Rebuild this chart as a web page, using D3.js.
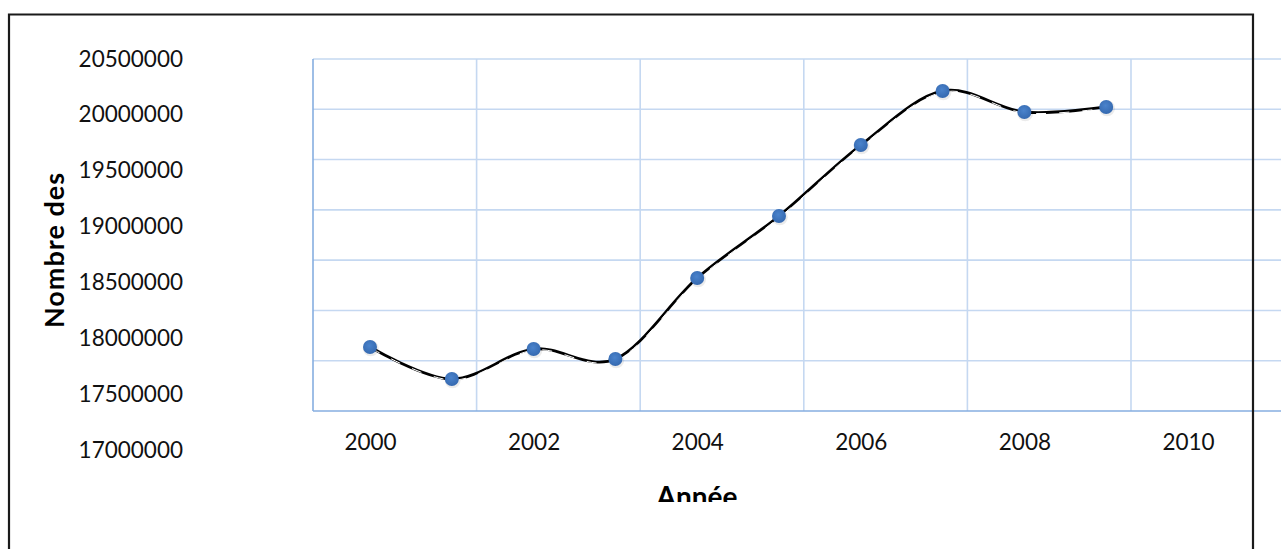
<!DOCTYPE html>
<html>
<head>
<meta charset="utf-8">
<script src="https://cdn.jsdelivr.net/npm/d3@7/dist/d3.min.js"></script>
<style>
  html, body { margin: 0; padding: 0; background: #fff; }
  svg { display: block; font-family: Lato, "Liberation Sans", sans-serif; }
</style>
</head>
<body>
<div id="chart"></div>
<script>
// data
const years  = [2000, 2001, 2002, 2003, 2004, 2005, 2006, 2007, 2008, 2009];
const values = [17636000, 17318000, 17616000, 17517000, 18322000,
                18939000, 19645000, 20182000, 19973000, 20023000];
const yTickLabels = [17000000, 17500000, 18000000, 18500000,
                     19000000, 19500000, 20000000, 20500000];
const xTickLabels = [2000, 2002, 2004, 2006, 2008, 2010];

const W = 1281, H = 549;
const COLORS = { grid: '#c5d8f1', axis: '#86aee0', marker: '#3f77c1', line: '#000', frame: '#1a1a1a' };

const svg = d3.select('#chart').append('svg')
    .attr('width', W).attr('height', H);

svg.append('rect').attr('width', W).attr('height', H).attr('fill', '#fff');

// plot area (grid scale) — the grid in the source image is offset from the labels
const xScale = d3.scaleLinear().domain([2000, 2010]).range([370, 1188]);
const yScale = d3.scaleLinear().domain([17000000, 20500000]).range([411, 59]);
// the tick labels sit on their own, slightly stretched, scale
const yLabelScale = d3.scaleLinear().domain([17000000, 20500000]).range([449, 58]);

const plotLeft = 313, plotRight = W;
const gridStartYear = xScale.invert(plotLeft);
const xGridYears = d3.range(1, 8).map(i => gridStartYear + 2 * i);

const grid = svg.append('g').attr('class', 'grid');
grid.selectAll('.hgrid')
    .data(yTickLabels.slice(1))
    .join('line')
    .attr('class', 'hgrid')
    .attr('x1', plotLeft).attr('x2', plotRight)
    .attr('y1', d => yScale(d)).attr('y2', d => yScale(d))
    .attr('stroke', COLORS.grid).attr('stroke-width', 1.6);

grid.selectAll('.vgrid')
    .data(xGridYears)
    .join('line')
    .attr('class', 'vgrid')
    .attr('x1', d => xScale(d)).attr('x2', d => xScale(d))
    .attr('y1', yScale(20500000)).attr('y2', yScale(17000000))
    .attr('stroke', COLORS.grid).attr('stroke-width', 1.6);

// axis lines
svg.append('line')
    .attr('x1', plotLeft).attr('x2', plotLeft)
    .attr('y1', yScale(20500000)).attr('y2', yScale(17000000))
    .attr('stroke', COLORS.axis).attr('stroke-width', 1.6);
svg.append('line')
    .attr('x1', plotLeft).attr('x2', plotRight)
    .attr('y1', yScale(17000000)).attr('y2', yScale(17000000))
    .attr('stroke', COLORS.axis).attr('stroke-width', 1.6);

// y tick labels
const yAxis = d3.axisLeft(yLabelScale).tickValues(yTickLabels).tickSize(0).tickPadding(0).tickFormat(d3.format('d'));
const yAxisG = svg.append('g').attr('transform', 'translate(183,0)').call(yAxis);
yAxisG.select('.domain').remove();
yAxisG.selectAll('text')
    .attr('font-family', 'Lato, sans-serif')
    .attr('font-size', 22.5)
    .attr('fill', '#111')
    .attr('dy', '0.36em');

// x tick labels
const xAxis = d3.axisBottom(xScale).tickValues(xTickLabels).tickSize(0).tickPadding(0).tickFormat(d3.format('d'));
const xAxisG = svg.append('g').attr('transform', 'translate(0,442)').call(xAxis);
xAxisG.select('.domain').remove();
xAxisG.selectAll('text')
    .attr('font-family', 'Lato, sans-serif')
    .attr('font-size', 22.5)
    .attr('fill', '#111')
    .attr('dy', '0.36em');

// smoothed line
const points = years.map((y, i) => ({ year: y, value: values[i] }));
const line = d3.line()
    .x(d => xScale(d.year))
    .y(d => yScale(d.value))
    .curve(d3.curveCardinal.tension(0));

svg.append('path')
    .datum(points)
    .attr('d', line)
    .attr('fill', 'none')
    .attr('stroke', COLORS.line)
    .attr('stroke-width', 2.8);
// faint white streaks seen on the source line
svg.append('path')
    .datum(points)
    .attr('d', line)
    .attr('transform', 'translate(0.9,1)')
    .attr('fill', 'none')
    .attr('stroke', '#fff')
    .attr('stroke-width', 1)
    .attr('stroke-dasharray', '10 13');

// markers
const defs = svg.append('defs');
const grad = defs.append('radialGradient').attr('id', 'mk').attr('cx', '45%').attr('cy', '40%').attr('r', '60%');
grad.append('stop').attr('offset', '0%').attr('stop-color', '#4a83cc');
grad.append('stop').attr('offset', '100%').attr('stop-color', '#3569b0');

svg.selectAll('.shadow')
    .data(points)
    .join('circle')
    .attr('class', 'shadow')
    .attr('cx', d => xScale(d.year) + 0.8)
    .attr('cy', d => yScale(d.value) + 1.3)
    .attr('r', 8)
    .attr('fill', '#000').attr('opacity', 0.08);

svg.selectAll('.marker')
    .data(points)
    .join('circle')
    .attr('class', 'marker')
    .attr('cx', d => xScale(d.year))
    .attr('cy', d => yScale(d.value))
    .attr('r', 7)
    .attr('fill', 'url(#mk)');

// axis titles
svg.append('text')
    .attr('transform', 'translate(64,250) rotate(-90)')
    .attr('text-anchor', 'middle')
    .attr('font-family', 'Lato, sans-serif')
    .attr('font-weight', 'bold')
    .attr('font-size', 27)
    .attr('letter-spacing', 1)
    .attr('fill', '#000')
    .text('Nombre des');

defs.append('clipPath').attr('id', 'titleClip')
    .append('rect').attr('x', 0).attr('y', 0).attr('width', W).attr('height', 502);

svg.append('text')
    .attr('clip-path', 'url(#titleClip)')
    .attr('x', 697).attr('y', 507)
    .attr('text-anchor', 'middle')
    .attr('font-family', 'Lato, sans-serif')
    .attr('font-weight', 'bold')
    .attr('font-size', 28)
    .attr('fill', '#000')
    .text('Année');

// outer frame (drawn on top, bottom edge runs off the picture)
svg.append('path')
    .attr('d', `M9,${H + 5} L9,14.5 L1253,14.5 L1253,${H + 5}`)
    .attr('fill', 'none')
    .attr('stroke', COLORS.frame)
    .attr('stroke-width', 2.2);
</script>
</body>
</html>
